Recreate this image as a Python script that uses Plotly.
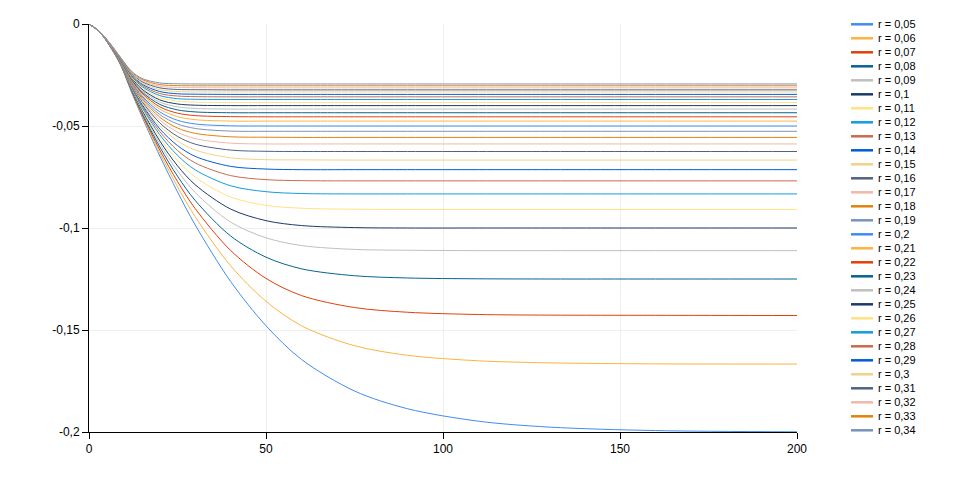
import plotly.graph_objects as go

# x positions (time steps) at which each curve is sampled
t = [0, 3, 6, 9, 12, 15, 20, 25, 30, 40, 50, 60, 75, 90, 110, 130, 160, 200]

r_values = [0.05, 0.06, 0.07, 0.08, 0.09, 0.10, 0.11, 0.12, 0.13, 0.14,
            0.15, 0.16, 0.17, 0.18, 0.19, 0.20, 0.21, 0.22, 0.23, 0.24,
            0.25, 0.26, 0.27, 0.28, 0.29, 0.30, 0.31, 0.32, 0.33, 0.34]

y_005 = [0, -0.0040, -0.0112, -0.0204, -0.0334, -0.0456, -0.0647, -0.0823, -0.0985, -0.1262, -0.1479, -0.1644, -0.1799, -0.1886, -0.1947, -0.1976, -0.1993, -0.1999]
y_006 = [0, -0.0040, -0.0111, -0.0203, -0.0330, -0.0449, -0.0632, -0.0798, -0.0945, -0.1185, -0.1359, -0.1479, -0.1577, -0.1624, -0.1651, -0.1661, -0.1666, -0.1667]
y_007 = [0, -0.0039, -0.0111, -0.0201, -0.0327, -0.0443, -0.0618, -0.0772, -0.0905, -0.1110, -0.1247, -0.1331, -0.1390, -0.1413, -0.1424, -0.1427, -0.1428, -0.1429]
y_008 = [0, -0.0039, -0.0110, -0.0200, -0.0324, -0.0436, -0.0603, -0.0746, -0.0865, -0.1039, -0.1143, -0.1200, -0.1234, -0.1245, -0.1249, -0.1250, -0.1250, -0.1250]
y_009 = [0, -0.0039, -0.0110, -0.0199, -0.0320, -0.0429, -0.0588, -0.0720, -0.0826, -0.0971, -0.1048, -0.1086, -0.1105, -0.1109, -0.1111, -0.1111, -0.1111, -0.1111]
y_010 = [0, -0.0039, -0.0109, -0.0197, -0.0317, -0.0422, -0.0573, -0.0695, -0.0788, -0.0907, -0.0964, -0.0988, -0.0998, -0.1000, -0.1000, -0.1000, -0.1000, -0.1000]
y_011 = [0, -0.0039, -0.0109, -0.0196, -0.0313, -0.0415, -0.0558, -0.0669, -0.0751, -0.0848, -0.0889, -0.0903, -0.0908, -0.0909, -0.0909, -0.0909, -0.0909, -0.0909]
y_012 = [0, -0.0039, -0.0108, -0.0195, -0.0309, -0.0408, -0.0543, -0.0644, -0.0715, -0.0793, -0.0822, -0.0831, -0.0833, -0.0833, -0.0833, -0.0833, -0.0833, -0.0833]
y_013 = [0, -0.0039, -0.0108, -0.0194, -0.0306, -0.0401, -0.0528, -0.0620, -0.0681, -0.0743, -0.0763, -0.0768, -0.0769, -0.0769, -0.0769, -0.0769, -0.0769, -0.0769]
y_014 = [0, -0.0039, -0.0107, -0.0192, -0.0302, -0.0394, -0.0514, -0.0596, -0.0649, -0.0698, -0.0711, -0.0714, -0.0714, -0.0714, -0.0714, -0.0714, -0.0714, -0.0714]
y_015 = [0, -0.0039, -0.0106, -0.0191, -0.0299, -0.0387, -0.0499, -0.0573, -0.0618, -0.0656, -0.0665, -0.0666, -0.0667, -0.0667, -0.0667, -0.0667, -0.0667, -0.0667]
y_016 = [0, -0.0039, -0.0106, -0.0190, -0.0295, -0.0380, -0.0485, -0.0551, -0.0589, -0.0618, -0.0624, -0.0625, -0.0625, -0.0625, -0.0625, -0.0625, -0.0625, -0.0625]
y_017 = [0, -0.0039, -0.0105, -0.0188, -0.0291, -0.0373, -0.0471, -0.0530, -0.0562, -0.0584, -0.0588, -0.0588, -0.0588, -0.0588, -0.0588, -0.0588, -0.0588, -0.0588]
y_018 = [0, -0.0039, -0.0105, -0.0187, -0.0288, -0.0366, -0.0457, -0.0510, -0.0536, -0.0553, -0.0555, -0.0556, -0.0556, -0.0556, -0.0556, -0.0556, -0.0556, -0.0556]
y_019 = [0, -0.0039, -0.0104, -0.0186, -0.0284, -0.0359, -0.0444, -0.0490, -0.0512, -0.0525, -0.0526, -0.0526, -0.0526, -0.0526, -0.0526, -0.0526, -0.0526, -0.0526]
y_020 = [0, -0.0038, -0.0104, -0.0184, -0.0280, -0.0353, -0.0431, -0.0472, -0.0490, -0.0499, -0.0500, -0.0500, -0.0500, -0.0500, -0.0500, -0.0500, -0.0500, -0.0500]
y_021 = [0, -0.0038, -0.0103, -0.0183, -0.0277, -0.0346, -0.0418, -0.0454, -0.0469, -0.0476, -0.0476, -0.0476, -0.0476, -0.0476, -0.0476, -0.0476, -0.0476, -0.0476]
y_022 = [0, -0.0038, -0.0103, -0.0182, -0.0273, -0.0339, -0.0406, -0.0437, -0.0449, -0.0454, -0.0455, -0.0455, -0.0455, -0.0455, -0.0455, -0.0455, -0.0455, -0.0455]
y_023 = [0, -0.0038, -0.0102, -0.0180, -0.0269, -0.0333, -0.0394, -0.0421, -0.0431, -0.0435, -0.0435, -0.0435, -0.0435, -0.0435, -0.0435, -0.0435, -0.0435, -0.0435]
y_024 = [0, -0.0038, -0.0102, -0.0179, -0.0266, -0.0326, -0.0383, -0.0406, -0.0414, -0.0417, -0.0417, -0.0417, -0.0417, -0.0417, -0.0417, -0.0417, -0.0417, -0.0417]
y_025 = [0, -0.0038, -0.0101, -0.0178, -0.0262, -0.0320, -0.0372, -0.0392, -0.0398, -0.0400, -0.0400, -0.0400, -0.0400, -0.0400, -0.0400, -0.0400, -0.0400, -0.0400]
y_026 = [0, -0.0038, -0.0101, -0.0176, -0.0259, -0.0313, -0.0361, -0.0378, -0.0383, -0.0385, -0.0385, -0.0385, -0.0385, -0.0385, -0.0385, -0.0385, -0.0385, -0.0385]
y_027 = [0, -0.0038, -0.0100, -0.0175, -0.0255, -0.0307, -0.0351, -0.0366, -0.0369, -0.0370, -0.0370, -0.0370, -0.0370, -0.0370, -0.0370, -0.0370, -0.0370, -0.0370]
y_028 = [0, -0.0038, -0.0100, -0.0174, -0.0252, -0.0301, -0.0341, -0.0353, -0.0356, -0.0357, -0.0357, -0.0357, -0.0357, -0.0357, -0.0357, -0.0357, -0.0357, -0.0357]
y_029 = [0, -0.0038, -0.0099, -0.0172, -0.0248, -0.0295, -0.0331, -0.0342, -0.0344, -0.0345, -0.0345, -0.0345, -0.0345, -0.0345, -0.0345, -0.0345, -0.0345, -0.0345]
y_030 = [0, -0.0038, -0.0099, -0.0171, -0.0245, -0.0289, -0.0322, -0.0331, -0.0333, -0.0333, -0.0333, -0.0333, -0.0333, -0.0333, -0.0333, -0.0333, -0.0333, -0.0333]
y_031 = [0, -0.0038, -0.0098, -0.0170, -0.0241, -0.0283, -0.0313, -0.0321, -0.0322, -0.0323, -0.0323, -0.0323, -0.0323, -0.0323, -0.0323, -0.0323, -0.0323, -0.0323]
y_032 = [0, -0.0038, -0.0098, -0.0168, -0.0238, -0.0278, -0.0305, -0.0311, -0.0312, -0.0313, -0.0313, -0.0313, -0.0313, -0.0313, -0.0313, -0.0313, -0.0313, -0.0313]
y_033 = [0, -0.0037, -0.0097, -0.0167, -0.0235, -0.0272, -0.0297, -0.0302, -0.0303, -0.0303, -0.0303, -0.0303, -0.0303, -0.0303, -0.0303, -0.0303, -0.0303, -0.0303]
y_034 = [0, -0.0037, -0.0097, -0.0166, -0.0231, -0.0267, -0.0289, -0.0293, -0.0294, -0.0294, -0.0294, -0.0294, -0.0294, -0.0294, -0.0294, -0.0294, -0.0294, -0.0294]

series = [y_005, y_006, y_007, y_008, y_009, y_010, y_011, y_012, y_013, y_014,
          y_015, y_016, y_017, y_018, y_019, y_020, y_021, y_022, y_023, y_024,
          y_025, y_026, y_027, y_028, y_029, y_030, y_031, y_032, y_033, y_034]

x_tickvals = [0, 50, 100, 150, 200]
x_ticktext = ["0", "50", "100", "150", "200"]
y_tickvals = [0, -0.05, -0.1, -0.15, -0.2]
y_ticktext = ["0", "-0,05", "-0,1", "-0,15", "-0,2"]

palette = ["#418CF0", "#FCB441", "#E0400A", "#056492", "#BFBFBF", "#1A3B69",
           "#FFE382", "#129CDD", "#CA6B4B", "#005CDB", "#F3D288", "#506381",
           "#F1B9A8", "#E0830A", "#7893BE"]

FONT = "Liberation Sans"

# plot area geometry in pixels (used for the hand-built legend)
W, H = 960, 480
L, R, T, B = 89, 163, 24, 48
PW, PH = W - L - R, H - T - B


def label(r):
    s = ("%.2f" % r).rstrip("0").rstrip(".")
    return "r = " + s.replace(".", ",")


fig = go.Figure()
for i, (r, ys) in enumerate(zip(r_values, series)):
    fig.add_trace(go.Scatter(
        x=t, y=ys, mode="lines", name=label(r),
        line=dict(color=palette[i % len(palette)], width=1,
                  shape="spline", smoothing=0.9),
        showlegend=False, hoverinfo="skip"))

shapes = []
annotations = []
for i, r in enumerate(r_values):
    ypx = 24.3 + 14.0 * i
    yp = 1 - (ypx - T) / PH
    shapes.append(dict(type="line", xref="paper", yref="paper",
                       x0=(851 - L) / PW, x1=(873 - L) / PW, y0=yp, y1=yp,
                       line=dict(color=palette[i % len(palette)], width=2.5)))
    annotations.append(dict(xref="paper", yref="paper", x=(876 - L) / PW, y=yp,
                            text=label(r), showarrow=False, xanchor="left",
                            yanchor="middle",
                            font=dict(family=FONT, size=11, color="black")))

axis_common = dict(showline=True, linecolor="black", linewidth=1,
                   ticks="outside", tickcolor="black", ticklen=6,
                   showgrid=True, gridcolor="#EEEEEE", gridwidth=1,
                   zeroline=False,
                   tickfont=dict(family=FONT, size=12, color="black"))

fig.update_layout(
    width=W, height=H,
    margin=dict(l=L, r=R, t=T, b=B),
    plot_bgcolor="white", paper_bgcolor="white",
    font=dict(family=FONT, size=12, color="black"),
    showlegend=False,
    xaxis=dict(range=[0, 200], tickmode="array", tickvals=x_tickvals,
               ticktext=x_ticktext, **axis_common),
    yaxis=dict(range=[-0.2, 0], tickmode="array", tickvals=y_tickvals,
               ticktext=y_ticktext, **axis_common),
    shapes=shapes, annotations=annotations,
)

fig.write_html("out.html")
